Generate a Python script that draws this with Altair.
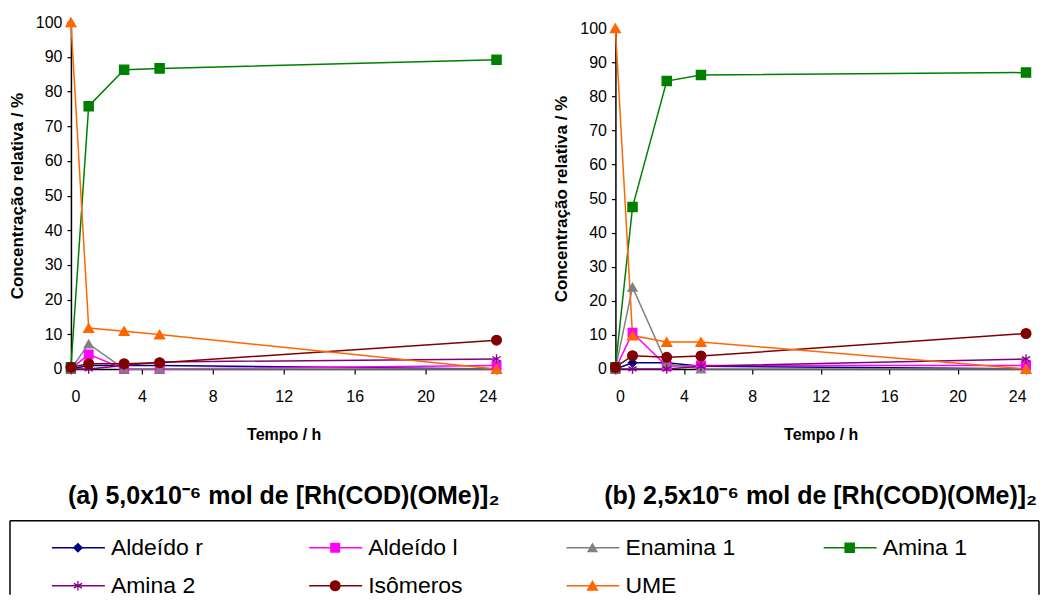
import altair as alt
import pandas as pd

# ---------------- data ----------------
times = [0, 1, 3, 5, 24]
series = ["Aldeído r", "Aldeído l", "Enamina 1", "Amina 1", "Amina 2", "Isômeros", "UME"]
colors = ["#000080", "#FF00FF", "#808080", "#008000", "#800080", "#800000", "#FF6600"]

# panel (a) 5,0x10-6 mol
a_aldeido_r = [0, 1, 1, 1, 0]
a_aldeido_l = [0, 4.2, 0, 0, 1]
a_enamina_1 = [0, 7.2, 0, 0, 0]
a_amina_1 = [0.5, 75.8, 86.3, 86.7, 89.2]
a_amina_2 = [0, 0, 1, 2, 2.9]
a_isomeros = [0.5, 1.5, 1.5, 1.8, 8.3]
a_ume = [100, 11.8, 10.9, 9.9, 0]

# panel (b) 2,5x10-6 mol
b_aldeido_r = [0, 1.8, 1.8, 0.8, 0]
b_aldeido_l = [0, 10.6, 0.8, 1, 1]
b_enamina_1 = [0, 24, 1.5, 0, 0]
b_amina_1 = [0.5, 47.5, 84.5, 86.3, 87]
b_amina_2 = [0, 0, 0, 0.8, 2.9]
b_isomeros = [0.5, 3.9, 3.4, 3.8, 10.4]
b_ume = [100, 9.8, 7.9, 7.9, 0]

caption_a = "(a) 5,0x10⁻⁶ mol de [Rh(COD)(OMe)]₂"
caption_b = "(b) 2,5x10⁻⁶ mol de [Rh(COD)(OMe)]₂"

# ---------------- styles ----------------
asterisk = "M0,-1L0,1M-0.87,-0.5L0.87,0.5M-0.87,0.5L0.87,-0.5"
shapes = ["diamond", "square", "triangle-up", "square", asterisk, "circle", "triangle-up"]
sizes = [70, 100, 130, 300, 90, 120, 150]

SANS = "Liberation Sans, Arial, sans-serif"

color_scale = alt.Scale(domain=series, range=colors)
shape_scale = alt.Scale(domain=series, range=shapes)
size_scale = alt.Scale(domain=series, range=sizes)


def make_df(cols):
    rows = []
    for name, vals in zip(series, cols):
        for t, v in zip(times, vals):
            rows.append({"series": name, "t": t, "v": v})
    return pd.DataFrame(rows)


df_a = make_df([a_aldeido_r, a_aldeido_l, a_enamina_1, a_amina_1, a_amina_2, a_isomeros, a_ume])
df_b = make_df([b_aldeido_r, b_aldeido_l, b_enamina_1, b_amina_1, b_amina_2, b_isomeros, b_ume])


def panel(df, width, height, caption, top_gap=0):
    base = alt.Chart(df).encode(
        x=alt.X("t:Q", scale=alt.Scale(domain=[0, 24], nice=False, zero=False),
                axis=alt.Axis(values=[0, 4, 8, 12, 16, 20, 24], title="Tempo / h",
                              titleFont=SANS, titleFontSize=16, titleFontWeight="bold",
                              labelFont=SANS, labelFontSize=16, tickSize=5,
                              labelPadding=15, titlePadding=22)),
        y=alt.Y("v:Q", scale=alt.Scale(domain=[0, 100], nice=False, range=[height, top_gap]),
                axis=alt.Axis(values=list(range(0, 101, 10)), title="Concentração relativa / %",
                              titleFont=SANS, titleFontSize=17, titleFontWeight="bold",
                              labelFont=SANS, labelFontSize=16, tickSize=4,
                              labelPadding=5, titlePadding=9)),
    )
    lines = base.mark_line(strokeWidth=1.5).encode(
        color=alt.Color("series:N", scale=color_scale, legend=None)
    )
    points = base.mark_point(filled=True, opacity=1, strokeWidth=1.3).encode(
        color=alt.Color("series:N", scale=color_scale, legend=None),
        stroke=alt.Stroke("series:N", scale=color_scale, legend=None),
        shape=alt.Shape("series:N", scale=shape_scale, legend=None),
        size=alt.Size("series:N", scale=size_scale, legend=None),
    )
    return alt.layer(lines, points).properties(
        width=width, height=height,
        title=alt.TitleParams(caption, orient="bottom", anchor="middle", frame="group",
                              font=SANS, fontSize=25, fontWeight="bold", color="black",
                              offset=41),
    )


pa = panel(df_a, 426, 347, caption_a)
pb = panel(df_b, 411, 347, caption_b, top_gap=6)

# ---------------- legend panel ----------------
leg_df = pd.DataFrame({
    "series": series,
    "col": [i % 4 for i in range(len(series))],
    "row": [i // 4 for i in range(len(series))],
})
LX0, LW, LH = -61, 969, 74   # box runs from LX0 to LW (relative to the plot origin)
lx = alt.X("col:Q", scale=alt.Scale(domain=[0, 4], nice=False, zero=True, range=[LX0, LW]),
           axis=None)
ly = alt.Y("row:O", scale=alt.Scale(type="point", range=[27, 65], padding=0), axis=None)
lbase = alt.Chart(leg_df).encode(x=lx, y=ly)
lrule = lbase.mark_rule(strokeWidth=1.5, xOffset=42, x2Offset=95).encode(
    x2="col:Q", color=alt.Color("series:N", scale=color_scale, legend=None))
lpoint = lbase.mark_point(filled=True, opacity=1, strokeWidth=1.3, xOffset=68).encode(
    color=alt.Color("series:N", scale=color_scale, legend=None),
    stroke=alt.Stroke("series:N", scale=color_scale, legend=None),
    shape=alt.Shape("series:N", scale=shape_scale, legend=None),
    size=alt.Size("series:N", scale=size_scale, legend=None),
)
ltext = lbase.mark_text(align="left", baseline="middle", xOffset=101, font=SANS,
                        fontSize=23, color="black").encode(text="series:N")
box_df = pd.DataFrame({"k": [0]})
box_top = alt.Chart(box_df).mark_rule(color="black", strokeWidth=1.5).encode(
    x=alt.value(LX0), x2=alt.value(LW), y=alt.value(0))
box_left = alt.Chart(box_df).mark_rule(color="black", strokeWidth=1.5).encode(
    x=alt.value(LX0), y=alt.value(0), y2=alt.value(LH))
box_right = alt.Chart(box_df).mark_rule(color="black", strokeWidth=1.5).encode(
    x=alt.value(LW), y=alt.value(0), y2=alt.value(LH))
legend = alt.layer(box_top, box_left, box_right, lrule, lpoint, ltext).properties(
    width=LW, height=LH)

chart = alt.vconcat(
    alt.hconcat(pa, pb, spacing=48),
    legend,
    spacing=11,
).properties(
    padding={"left": 0, "top": 6, "right": 0, "bottom": 0},
    background="white",
).configure_view(stroke=None).configure_axis(
    grid=False, domainColor="black", domainWidth=1.5, tickColor="black", tickWidth=1.2,
    labelColor="black", titleColor="black",
)

chart.save("out.html", embed_options={"renderer": "svg", "actions": False})
